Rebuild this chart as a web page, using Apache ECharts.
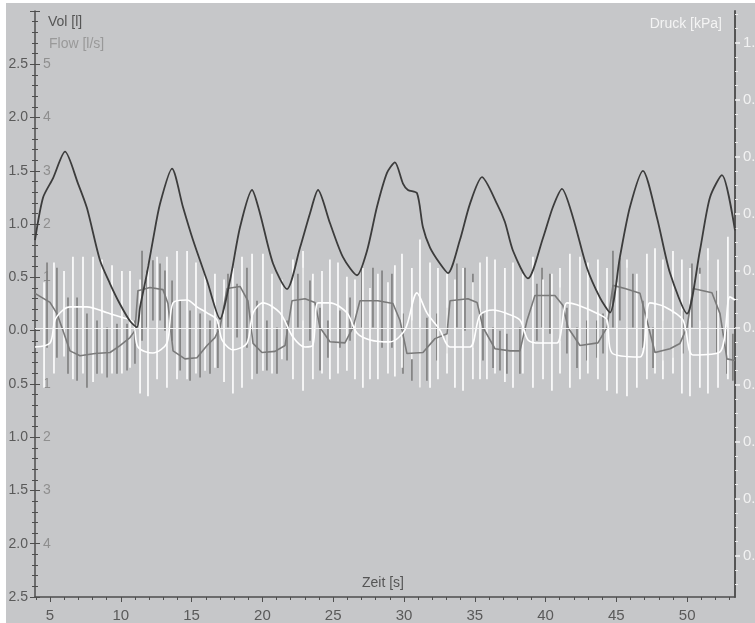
<!DOCTYPE html>
<html><head><meta charset="utf-8">
<script src="https://cdn.jsdelivr.net/npm/echarts@6/dist/echarts.min.js"></script>
<style>
html,body{margin:0;padding:0;background:#ffffff;width:755px;height:623px;overflow:hidden;}
#c{position:absolute;left:6px;top:3px;width:749px;height:620px;}
</style></head>
<body><div id="c"></div>
<script>
// ---- Volume (dark line), time [s] / Vol [l]
const volT = [3.94,4.51,5.21,6.06,6.98,7.61,8.53,9.24,9.94,10.65,11.14,11.36,11.85,12.27,12.77,13.62,14.39,15.10,16.09,17.01,17.71,18.42,19.27,19.83,20.75,21.74,22.66,23.36,23.93,24.77,25.69,26.68,27.39,28.09,28.80,29.36,29.93,30.28,30.92,31.34,31.84,32.54,33.11,33.95,34.66,35.51,36.57,37.13,37.70,38.76,39.82,40.52,41.16,41.94,42.92,43.84,44.55,45.25,45.96,46.88,47.87,48.79,49.99,50.90,51.61,52.46,53.38];
const volV = [0.85,1.25,1.43,1.68,1.38,1.15,0.66,0.44,0.25,0.09,0.03,0.22,0.54,0.85,1.19,1.52,1.16,0.85,0.47,0.11,0.47,0.97,1.32,1.10,0.63,0.39,0.78,1.10,1.32,1.01,0.69,0.52,0.75,1.16,1.48,1.58,1.38,1.32,1.29,0.97,0.78,0.63,0.54,0.85,1.19,1.44,1.19,1.02,0.75,0.49,0.87,1.16,1.33,1.06,0.59,0.31,0.17,0.69,1.16,1.50,1.06,0.54,0.16,0.75,1.25,1.46,0.94];

// ---- Flow (gray) baseline [l/s]
const flowT = [3.94,4.44,5.00,5.49,5.92,6.41,7.12,8.18,9.24,9.94,10.65,11.00,11.21,12.06,12.98,13.33,13.69,14.53,15.38,16.09,16.65,17.01,17.50,18.42,18.98,19.34,19.97,20.89,21.60,22.09,23.01,23.71,24.07,24.77,25.83,26.40,26.89,28.16,29.22,29.72,30.21,31.34,32.19,33.04,33.25,34.52,35.16,35.58,36.43,37.49,38.19,38.69,39.25,40.66,41.23,41.58,42.43,43.70,44.34,44.76,45.61,46.67,47.16,47.73,48.79,49.49,49.99,50.41,51.75,52.32,52.81,53.38];
const flowV = [0.70,0.62,0.53,0.32,0.00,-0.38,-0.47,-0.43,-0.41,-0.28,-0.13,0.00,0.75,0.81,0.77,0.51,-0.38,-0.53,-0.51,-0.28,-0.13,0.06,0.79,0.83,0.56,-0.24,-0.41,-0.39,-0.28,0.56,0.60,0.53,0.06,-0.21,-0.23,0.06,0.56,0.56,0.51,0.19,-0.43,-0.41,-0.15,-0.06,0.56,0.60,0.53,0.06,-0.34,-0.38,-0.38,0.19,0.66,0.66,0.47,0.06,-0.28,-0.23,0.06,0.85,0.79,0.70,0.19,-0.41,-0.34,-0.24,0.06,0.79,0.71,0.32,-0.53,-0.56];
// Flow spikes (vertical strokes)
const fSpikeT = [4.79,5.49,6.27,6.91,7.61,8.32,9.03,9.73,10.44,11.00,11.50,11.85,12.27,12.77,13.12,13.62,14.19,14.89,15.60,16.30,16.86,17.57,18.21,18.91,19.62,20.32,21.03,21.74,22.51,22.87,23.36,24.07,24.63,25.48,26.19,27.03,27.81,28.45,29.15,29.93,30.56,31.13,31.62,32.33,33.04,33.74,34.31,34.87,35.58,36.29,36.78,37.27,38.19,39.39,39.75,40.31,41.02,41.51,42.22,42.92,43.63,44.06,44.76,45.25,45.75,46.17,46.88,47.59,48.29,49.00,49.70,50.34,50.90,51.47,52.10,52.81,53.23];
const fSpikeTop = [1.28,1.18,0.62,0.62,0.32,0.19,0.06,0.13,0.13,0.19,1.50,1.13,1.32,1.26,1.13,0.94,0.56,0.38,0.32,0.19,0.13,1.07,0.88,1.18,0.56,0.19,0.06,0.19,1.07,1.18,0.94,0.43,0.19,0.38,0.62,1.18,1.18,1.13,1.07,0.32,0.19,0.06,0.24,0.32,0.43,1.26,1.18,1.07,0.32,0.06,0.00,-0.06,0.06,0.88,1.18,1.07,0.81,0.43,0.06,0.19,0.19,0.32,1.50,1.37,1.18,1.07,0.56,0.06,0.19,0.32,0.38,1.26,1.18,1.32,0.75,0.06,-0.06];
const fSpikeBottom = [-0.32,-0.51,-0.81,-0.94,-1.07,-0.81,-0.88,-0.81,-0.75,-0.62,-0.19,0.06,0.19,0.19,0.00,-0.19,-0.75,-0.94,-0.88,-0.81,-0.70,0.06,-0.13,-0.32,-0.81,-0.75,-0.81,-0.56,0.06,0.19,-0.19,-0.75,-0.51,-0.32,-0.19,0.06,0.06,-0.32,-0.32,-0.81,-0.94,-1.07,-0.94,-0.56,-0.43,0.06,0.00,-0.32,-0.56,-0.70,-0.75,-0.81,-0.81,-0.19,0.06,-0.06,-0.19,-0.43,-0.70,-0.56,-0.51,-0.43,0.06,0.19,0.06,0.06,-0.32,-0.70,-0.56,-0.51,-0.43,0.06,0.19,0.06,-0.43,-0.81,-0.94];

// ---- Pressure (white) baseline [kPa]
const presT = [3.94,5.00,5.35,5.92,6.41,7.61,9.03,9.94,10.86,11.21,12.27,13.26,13.69,14.68,15.38,16.09,16.79,17.15,17.92,18.91,19.34,20.04,21.24,22.16,23.01,23.57,23.93,24.77,25.97,26.68,27.60,29.01,30.07,30.92,31.62,32.54,33.25,34.66,35.37,36.29,37.13,38.19,38.76,39.60,40.80,41.51,42.22,43.84,44.34,44.69,46.67,47.37,48.43,49.70,50.41,52.32,53.02,53.38];
const presV = [-0.067,-0.053,0.028,0.063,0.074,0.074,0.053,0.039,0.021,-0.067,-0.088,-0.053,0.088,0.098,0.074,0.053,0.028,-0.042,-0.077,-0.053,0.053,0.088,0.053,-0.032,-0.067,-0.060,0.088,0.088,0.053,-0.018,-0.042,-0.049,-0.007,0.123,0.053,-0.007,-0.067,-0.067,0.046,0.063,0.053,0.028,-0.042,-0.053,-0.053,0.088,0.081,0.046,0.028,-0.088,-0.102,0.088,0.074,0.028,-0.095,-0.084,0.109,0.098];
// Pressure spikes
const pSpikeT = [4.58,5.28,5.99,6.62,7.33,8.04,8.67,9.38,10.08,10.65,11.36,11.92,12.56,13.26,13.97,14.68,15.31,15.95,16.65,17.29,17.92,18.56,19.27,20.04,20.68,21.38,22.16,22.87,23.57,24.21,24.77,25.34,25.97,26.54,27.10,27.60,28.16,28.87,29.36,29.86,30.56,31.13,31.84,32.40,33.04,33.60,34.17,34.87,35.37,35.86,36.43,37.13,37.70,38.40,39.11,39.82,40.45,41.02,41.72,42.43,42.99,43.70,44.34,45.04,45.75,46.45,47.16,47.73,48.29,49.00,49.63,50.20,50.90,51.47,52.18,52.88];
const pSpikeTop = [0.16,0.23,0.20,0.25,0.25,0.25,0.24,0.22,0.20,0.20,0.17,0.22,0.25,0.25,0.27,0.27,0.23,0.19,0.19,0.17,0.21,0.25,0.26,0.26,0.19,0.17,0.24,0.27,0.19,0.20,0.24,0.23,0.18,0.17,0.21,0.14,0.19,0.16,0.22,0.26,0.21,0.31,0.23,0.21,0.19,0.17,0.21,0.16,0.23,0.25,0.24,0.21,0.23,0.19,0.25,0.17,0.19,0.21,0.26,0.25,0.23,0.24,0.21,0.16,0.24,0.19,0.26,0.28,0.24,0.27,0.24,0.21,0.19,0.28,0.24,0.32];
const pSpikeBottom = [-0.21,-0.16,-0.10,-0.18,-0.16,-0.19,-0.16,-0.16,-0.16,-0.14,-0.23,-0.24,-0.18,-0.21,-0.18,-0.18,-0.16,-0.15,-0.14,-0.19,-0.23,-0.21,-0.18,-0.15,-0.16,-0.11,-0.18,-0.22,-0.18,-0.16,-0.18,-0.16,-0.15,-0.18,-0.21,-0.18,-0.18,-0.16,-0.17,-0.14,-0.11,-0.21,-0.21,-0.18,-0.16,-0.21,-0.22,-0.18,-0.18,-0.18,-0.16,-0.19,-0.21,-0.16,-0.21,-0.18,-0.22,-0.16,-0.21,-0.18,-0.16,-0.18,-0.22,-0.23,-0.24,-0.21,-0.18,-0.16,-0.18,-0.16,-0.23,-0.24,-0.21,-0.23,-0.21,-0.18];

// ---- tick positions
const timeLabels = [5,10,15,20,25,30,35,40,45,50];
const timeMinor = [];
for (let s = 4; s <= 53; s++) if (s % 5 !== 0) timeMinor.push(s);
const druckLabels = [-0.8,-0.6,-0.4,-0.2,0,0.2,0.4,0.6,0.8,1.0];
const druckMinor = [];
for (let k = -18; k <= 22; k++) if (k % 4 !== 0) druckMinor.push(k * 0.05);

const FONT = "'Liberation Sans Narrow','Liberation Sans',Arial,sans-serif";
const zip = (a, b) => a.map((v, i) => [v, b[i]]);
const zip3 = (a, b, c) => a.map((v, i) => [v, b[i], c[i]]);
function spikeRender(color) {
  return function (params, api) {
    const p1 = api.coord([api.value(0), api.value(1)]);
    const p2 = api.coord([api.value(0), api.value(2)]);
    return { type: 'line', shape: { x1: p1[0], y1: p1[1], x2: p2[0], y2: p2[1] },
      style: { stroke: color, lineWidth: 1.6 } };
  };
}
const axisDark = '#4e4e4e';
const chart = echarts.init(document.getElementById('c'), null, { renderer: 'canvas' });
chart.setOption({
  backgroundColor: '#c6c7c9',
  animation: false,
  grid: { left: 29, top: 8, right: 20, bottom: 26, containLabel: false, outerBoundsMode: 'none' },
  xAxis: [
    { type: 'value', min: 3.94, max: 53.38, position: 'bottom',
      axisLine: { show: true, onZero: false, lineStyle: { color: axisDark, width: 1.5 } },
      axisTick: { show: true, customValues: timeLabels, length: 5, lineStyle: { color: axisDark } },
      axisLabel: { customValues: timeLabels, margin: 11, color: '#5a5a5a', fontSize: 15, fontFamily: FONT },
      splitLine: { show: false } },
    { type: 'value', min: 3.94, max: 53.38, position: 'bottom',
      axisLine: { show: false, onZero: false },
      axisTick: { show: true, customValues: timeMinor, length: 3, lineStyle: { color: axisDark } },
      axisLabel: { show: false }, splitLine: { show: false } }
  ],
  yAxis: [
    { type: 'value', min: -2.5, max: 3.0, interval: 0.5, position: 'left',
      axisLine: { show: true, onZero: false, lineStyle: { color: axisDark, width: 1.5 } },
      axisTick: { show: true, inside: false, length: 5, lineStyle: { color: axisDark } },
      minorTick: { show: true, splitNumber: 5, length: 3, lineStyle: { color: axisDark } },
      axisLabel: { margin: 7, color: '#5a5a5a', fontSize: 14, fontFamily: FONT,
        formatter: v => (v > 2.9 ? '' : Math.abs(v).toFixed(1)) },
      splitLine: { show: false } },
    { type: 'value', min: -5, max: 6, interval: 1, position: 'left',
      axisLine: { show: false, onZero: false },
      axisTick: { show: true, inside: true, length: 5, lineStyle: { color: axisDark } },
      minorTick: { show: true, splitNumber: 5, length: 3, lineStyle: { color: axisDark } },
      axisLabel: { inside: true, margin: 8, color: '#8f8f8f', fontSize: 14, fontFamily: FONT,
        formatter: v => ((v === 0 || v === 6 || v === -5) ? '' : String(Math.abs(v))) },
      splitLine: { show: false } },
    { type: 'value', min: -0.944, max: 1.112, position: 'right',
      axisLine: { show: true, onZero: false, lineStyle: { color: '#555555', width: 2 } },
      axisTick: { show: true, customValues: druckLabels, length: 5, lineStyle: { color: '#f2f2f2', width: 1.5 } },
      axisLabel: { customValues: druckLabels, margin: 8, color: '#f2f2f2', fontSize: 15, fontFamily: FONT,
        formatter: v => Math.abs(v).toFixed(1) },
      splitLine: { show: false } },
    { type: 'value', min: -0.944, max: 1.112, position: 'right',
      axisLine: { show: false, onZero: false },
      axisTick: { show: true, customValues: druckMinor, length: 3, lineStyle: { color: '#ececec' } },
      axisLabel: { show: false }, splitLine: { show: false } }
  ],
  graphic: [
    { type: 'text', left: 42, top: 12, style: { text: 'Vol [l]', fill: '#555555', font: '14px ' + FONT } },
    { type: 'text', left: 43, top: 34, style: { text: 'Flow [l/s]', fill: '#999999', font: '14px ' + FONT } },
    { type: 'text', right: 33, top: 14, style: { text: 'Druck [kPa]', fill: '#f4f4f4', font: '14px ' + FONT } },
    { type: 'text', left: 356, top: 573, style: { text: 'Zeit [s]', fill: '#555555', font: '14px ' + FONT } }
  ],
  series: [
    { name: 'FlowSpikes', type: 'custom', xAxisIndex: 0, yAxisIndex: 1, clip: true,
      renderItem: spikeRender('#7e7e7e'), encode: { x: 0, y: [1, 2] },
      data: zip3(fSpikeT, fSpikeBottom, fSpikeTop) },
    { name: 'Flow', type: 'line', xAxisIndex: 0, yAxisIndex: 1, symbol: 'none',
      lineStyle: { color: '#7a7a7a', width: 1.6 }, data: zip(flowT, flowV) },
    { name: 'DruckSpikes', type: 'custom', xAxisIndex: 0, yAxisIndex: 2, clip: true,
      renderItem: spikeRender('#ffffff'), encode: { x: 0, y: [1, 2] },
      data: zip3(pSpikeT, pSpikeBottom, pSpikeTop) },
    { name: 'Druck', type: 'line', xAxisIndex: 0, yAxisIndex: 2, symbol: 'none', smooth: 0.3,
      lineStyle: { color: '#ffffff', width: 1.6 }, data: zip(presT, presV),
      markLine: { silent: true, symbol: 'none', label: { show: false },
        lineStyle: { color: '#f4f4f4', width: 1, type: 'solid' }, data: [{ yAxis: 0 }] } },
    { name: 'Vol', type: 'line', xAxisIndex: 0, yAxisIndex: 0, symbol: 'none', smooth: 0.25,
      lineStyle: { color: '#3c3c3c', width: 1.8 }, data: zip(volT, volV) }
  ]
});
</script></body></html>
